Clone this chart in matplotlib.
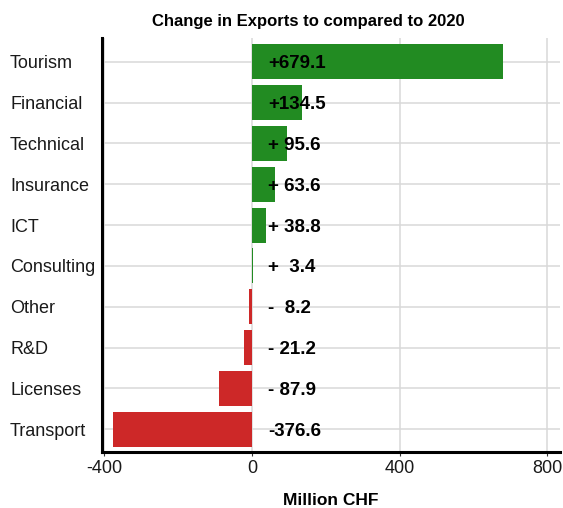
import matplotlib
matplotlib.use("Agg")
import matplotlib.pyplot as plt
import matplotlib.transforms as mtrans

plt.rcParams['font.family'] = ['Liberation Sans', 'DejaVu Sans']

categories = ["Tourism", "Financial", "Technical", "Insurance", "ICT",
              "Consulting", "Other", "R&D", "Licenses", "Transport"]
values = [679.1, 134.5, 95.6, 63.6, 38.8, 3.4, -8.2, -21.2, -87.9, -376.6]
labels = ["+679.1", "+134.5", "+ 95.6", "+ 63.6", "+ 38.8",
          "+  3.4", "-  8.2", "- 21.2", "- 87.9", "-376.6"]
xticks = [-400, 0, 400, 800]

fig = plt.figure(figsize=(5.63, 5.08), dpi=100)
ax = fig.add_axes([0.181, 0.110, 0.8135, 0.815])

n = len(categories)
ypos = [n - 1 - i for i in range(n)]
colors = ['#228B22' if v >= 0 else '#CD2828' for v in values]

ax.set_axisbelow(True)
ax.grid(True, color='#D9D9D9', linewidth=1.1)
ax.barh(ypos, values, height=0.86, color=colors, edgecolor='none')

for y, lab in zip(ypos, labels):
    ax.text(44, y, lab, ha='left', va='center_baseline', fontsize=13.5,
            fontweight='bold', color='black')

ax.set_xlim(-406, 834)
ax.set_ylim(-0.56, 9.58)
ax.set_xticks(xticks)
ax.set_xticklabels([str(t) for t in xticks], fontsize=13)
ax.set_yticks(ypos)
ax.set_yticklabels([])
trans = mtrans.blended_transform_factory(fig.transFigure, ax.transData)
for y, c in zip(ypos, categories):
    ax.text(10 / 563, y, c, transform=trans, ha='left', va='center_baseline',
            fontsize=13, color='#1a1a1a')

ax.tick_params(axis='x', length=3, color='#333333', pad=3, labelcolor='#1a1a1a')
ax.tick_params(axis='y', length=0)

for s in ['top', 'right']:
    ax.spines[s].set_visible(False)
for s in ['left', 'bottom']:
    ax.spines[s].set_linewidth(2.2)
    ax.spines[s].set_color('black')

ax.set_xlabel("Million CHF", fontsize=12.5, fontweight='bold', labelpad=11)
fig.text(0.548, 0.958, "Change in Exports to compared to 2020",
         ha='center', va='center', fontsize=12, fontweight='bold')

fig.savefig("out.png", dpi=100)
